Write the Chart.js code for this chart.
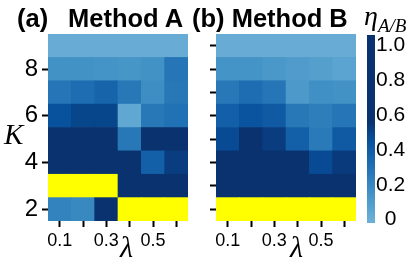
<!DOCTYPE html>
<html>
<head>
<meta charset="utf-8">
<script src="https://cdn.jsdelivr.net/npm/chart.js@4.4.1/dist/chart.umd.min.js"></script>
<style>
  body { margin: 0; background: #fff; }
  #wrap { position: relative; width: 415px; height: 267px; overflow: hidden; font-family: "Liberation Sans", Arial, sans-serif; }
  canvas { position: absolute; top: 0; }
  .title { position: absolute; top: 5px; font-weight: bold; font-size: 25.5px; line-height: 26px; white-space: nowrap; }
  .math { position: absolute; font-family: "Liberation Serif", "DejaVu Serif", serif; font-style: italic; white-space: nowrap; line-height: 1; }
</style>
</head>
<body>
<div id="wrap">
  <canvas id="chartA" width="200" height="267" style="left:0;width:200px;height:267px"></canvas>
  <canvas id="chartB" width="160" height="267" style="left:200px;width:160px;height:267px"></canvas>
  <canvas id="cbar" width="60" height="267" style="left:355px;width:60px;height:267px"></canvas>
  <div class="title" style="left:17px">(a)</div>
  <div class="title" style="left:68px">Method A</div>
  <div class="title" style="left:192px">(b) Method B</div>
  <div class="math" style="left:4px;top:120px;font-size:29px">K</div>
  <div class="math" style="left:120px;top:232px;font-size:30px">λ</div>
  <div class="math" style="left:290px;top:232px;font-size:30px">λ</div>
  <div class="math" style="left:364px;top:2px;font-size:28px">η<span style="font-size:19px;position:relative;top:7px">A/B</span></div>
</div>
<script>
// grid axes
var lambdas = ['0.1', '0.2', '0.3', '0.4', '0.5', '0.6'];
var kValues = [2, 3, 4, 5, 6, 7, 8, 9];

// eta values, one row per K (2..9), one entry per lambda; null = no result (yellow)
var etaA = [
  [0.22, 0.19, 0.80, null, null, null],
  [null, null, null, 0.80, 0.80, 0.80],
  [0.80, 0.80, 0.80, 0.80, 0.38, 0.52],
  [0.80, 0.80, 0.80, 0.27, 0.80, 0.80],
  [0.45, 0.49, 0.49, 0.04, 0.27, 0.30],
  [0.28, 0.32, 0.36, 0.27, 0.17, 0.27],
  [0.15, 0.15, 0.14, 0.13, 0.15, 0.28],
  [0.01, 0.01, 0.01, 0.01, 0.01, 0.01]
];
var etaB = [
  [null, null, null, null, null, null],
  [0.80, 0.80, 0.80, 0.80, 0.80, 0.80],
  [0.80, 0.80, 0.80, 0.80, 0.47, 0.53],
  [0.47, 0.56, 0.52, 0.38, 0.26, 0.41],
  [0.38, 0.44, 0.41, 0.27, 0.24, 0.28],
  [0.27, 0.32, 0.28, 0.11, 0.16, 0.15],
  [0.14, 0.14, 0.12, 0.10, 0.08, 0.06],
  [0.01, 0.01, 0.01, 0.01, 0.01, 0.01]
];

// colour bar
var cbarTicks = [0, 0.2, 0.4, 0.6, 0.8, 1.0];
var cbarLabels = ['0', '0.2', '0.4', '0.6', '0.8', '1.0'];

var missingColor = '#ffff00';
var stops = [
  [0.00, [107, 174, 214]],
  [0.15, [66, 146, 198]],
  [0.30, [33, 113, 181]],
  [0.45, [8, 81, 156]],
  [0.56, [9, 50, 110]],
  [1.00, [9, 50, 110]]
];

function cmap(v) {
  if (v === null) return missingColor;
  v = Math.max(0, Math.min(1, v));
  for (var i = 1; i < stops.length; i++) {
    if (v <= stops[i][0]) {
      var a = stops[i - 1], b = stops[i];
      var t = (v - a[0]) / (b[0] - a[0]);
      var c = a[1].map(function(x, j) { return Math.round(x + (b[1][j] - x) * t); });
      return 'rgb(' + c.join(',') + ')';
    }
  }
  return 'rgb(' + stops[stops.length - 1][1].join(',') + ')';
}

function heatmap(id, eta, showLabels, yWidth, padRight) {
  var datasets = kValues.map(function(k, r) {
    return {
      data: lambdas.map(function() { return [k - 0.5, k + 0.5]; }),
      backgroundColor: eta[r].map(cmap),
      borderWidth: 0,
      borderSkipped: false,
      grouped: false,
      barPercentage: 1,
      categoryPercentage: 1
    };
  });
  return new Chart(document.getElementById(id), {
    type: 'bar',
    data: { labels: lambdas, datasets: datasets },
    options: {
      responsive: false,
      animation: false,
      layout: { padding: { top: 34, right: padRight, left: 0, bottom: 0 } },
      plugins: { legend: { display: false }, tooltip: { enabled: false } },
      scales: {
        x: {
          grid: { offset: false, drawOnChartArea: false, tickLength: 6, tickWidth: 2, tickColor: '#000' },
          border: { display: false },
          ticks: {
            color: '#000', font: { family: 'Liberation Sans', size: 18 }, padding: 3, maxRotation: 0, autoSkip: false,
            callback: function(v, i) { return i % 2 === 0 ? lambdas[i] : ''; }
          },
          afterFit: function(s) { s.height = 46; }
        },
        y: {
          min: 1.5, max: 9.5,
          afterBuildTicks: function(s) { s.ticks = kValues.map(function(k) { return { value: k }; }); },
          grid: { drawOnChartArea: false, tickLength: 6, tickWidth: 2, tickColor: '#000' },
          border: { display: false },
          ticks: {
            display: showLabels, color: '#000', font: { family: 'Liberation Sans', size: 24 }, padding: 4,
            callback: function(v) { return v % 2 === 0 ? String(v) : ''; }
          },
          afterFit: function(s) { s.width = yWidth; }
        }
      }
    }
  });
}

heatmap('chartA', etaA, true, 48, 12);
heatmap('chartB', etaB, false, 16, 4);

// colour bar: one floating bar filled with the colormap gradient
var cbMin = -0.02, cbMax = 1.06;
new Chart(document.getElementById('cbar'), {
  type: 'bar',
  data: {
    labels: [''],
    datasets: [{
      data: [[cbMin, cbMax]],
      borderWidth: 0,
      borderSkipped: false,
      barPercentage: 1,
      categoryPercentage: 1,
      backgroundColor: function(ctx) {
        var chart = ctx.chart;
        if (!chart.chartArea) return '#08306b';
        var y = chart.scales.y;
        var g = chart.ctx.createLinearGradient(0, y.getPixelForValue(0), 0, y.getPixelForValue(1));
        stops.forEach(function(s) { g.addColorStop(s[0], cmap(s[0])); });
        return g;
      }
    }]
  },
  options: {
    responsive: false,
    animation: false,
    layout: { padding: { top: 35, left: 12, right: 8, bottom: 44 } },
    plugins: { legend: { display: false }, tooltip: { enabled: false } },
    scales: {
      x: { display: false },
      y: {
        position: 'right',
        min: cbMin, max: cbMax,
        afterBuildTicks: function(s) { s.ticks = cbarTicks.map(function(v) { return { value: v }; }); },
        grid: { display: false },
        border: { display: false },
        ticks: {
          color: '#000', font: { family: 'Liberation Sans', size: 21 }, padding: -7, crossAlign: 'center',
          callback: function(v, i) { return cbarLabels[i]; }
        },
        afterFit: function(s) { s.width = 32; }
      }
    }
  }
});
</script>
</body>
</html>
